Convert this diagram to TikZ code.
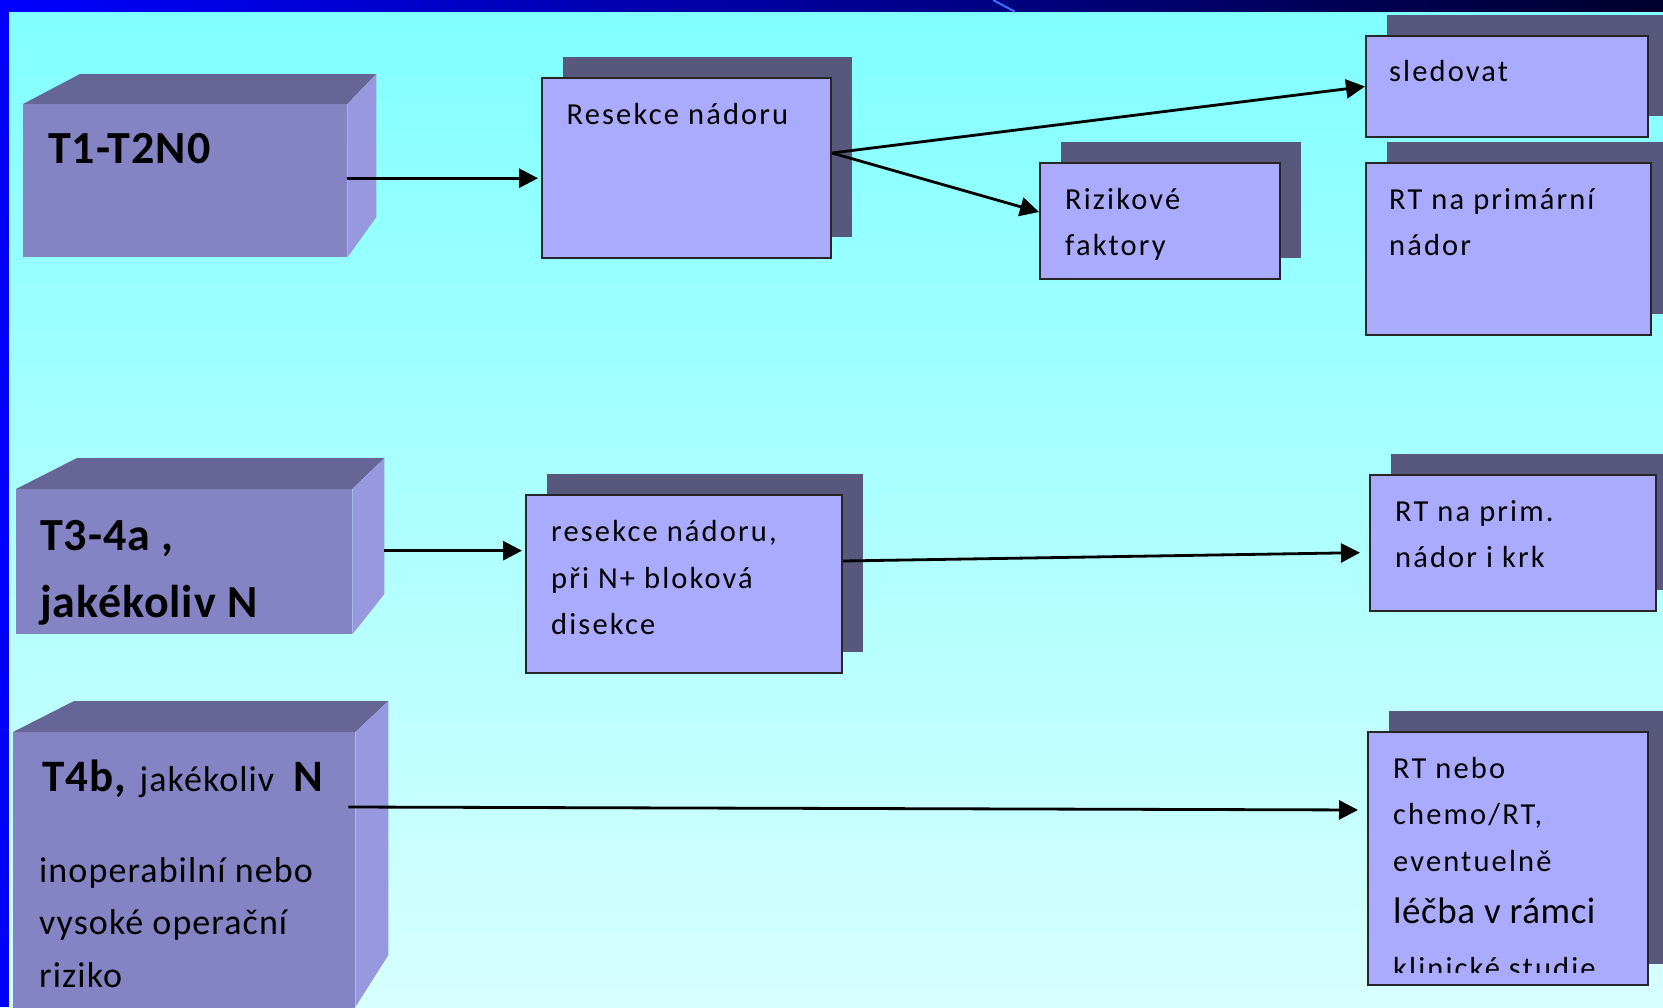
\documentclass[tikz,border=0pt]{standalone}
\usepackage{fontspec}
\setmainfont{Carlito}
\newfontfamily\bxf[LetterSpace=7]{Carlito}
\newfontfamily\bxfb[LetterSpace=1.5]{Carlito}
\newfontfamily\cubf[LetterSpace=2]{Carlito}
\newfontfamily\cubr[LetterSpace=3]{Carlito}
\usetikzlibrary{shadows,arrows.meta,calc}
\definecolor{bgtop}{RGB}{128,255,255}
\definecolor{bgbot}{RGB}{215,255,255}
\definecolor{cfront}{RGB}{132,132,196}
\definecolor{ctop}{RGB}{102,102,150}
\definecolor{cright}{RGB}{152,152,222}
\definecolor{bfill}{RGB}{170,170,255}
\definecolor{bshadow}{RGB}{88,88,124}
\definecolor{bandl}{RGB}{0,0,255}
\definecolor{bandm}{RGB}{0,0,200}
\definecolor{bandr}{RGB}{0,0,45}
\definecolor{glint}{RGB}{60,110,255}
\tikzset{
 flatbox/.style={draw=black!85, line width=2pt, fill=bfill, anchor=north west, inner sep=0pt,
   general shadow={fill=bshadow, shadow xshift=21pt, shadow yshift=21pt}},
 cubefront/.style={fill=cfront, anchor=north west, inner sep=0pt},
 cubetop/.style={fill=ctop},
 cuberight/.style={fill=cright},
 arr/.style={line width=2.8pt, -{Triangle[length=19pt,width=19pt]}},
 btxt/.style={anchor=base west, inner sep=0pt},
}
\newcommand\boxlines[1]{\parbox[t]{280pt}{\bxf\fontsize{30.5}{46.5}\selectfont\raggedright #1}}
\begin{document}
\begin{tikzpicture}[x=1pt,y=-1pt]
\useasboundingbox (0,0) rectangle (1663,1007);
% background
\shade[top color=bgtop, bottom color=bgbot] (0,0) rectangle (1663,1007);
\fill[bandl] (0,0) rectangle (9,1007);
\shade[left color=bandl, middle color=bandm, right color=bandr] (0,0) rectangle (1663,11.7);
\draw[glint, line width=2pt] (993,0) -- (1015,11.7);

% cuboids
\node[cubefront, minimum width=324pt, minimum height=153pt] (c1) at (23,104) {};
\fill[cubetop] (c1.north west) -- ++(57,-30) -- ($(c1.north east)+(29,-30)$) -- (c1.north east) -- cycle;
\fill[cuberight] (c1.north east) -- ++(29,-30) -- ++(0,143) -- (c1.south east) -- cycle;

\node[cubefront, minimum width=336pt, minimum height=145pt] (c2) at (16,489) {};
\fill[cubetop] (c2.north west) -- ++(61,-31) -- ($(c2.north east)+(32,-31)$) -- (c2.north east) -- cycle;
\fill[cuberight] (c2.north east) -- ++(32,-31) -- ++(0,136) -- (c2.south east) -- cycle;

\node[cubefront, minimum width=342pt, minimum height=280pt] (c3) at (13,732) {};
\fill[cubetop] (c3.north west) -- ++(61,-31) -- ($(c3.north east)+(33,-31)$) -- (c3.north east) -- cycle;
\fill[cuberight] (c3.north east) -- ++(33,-31) -- ++(0,254) -- ($(c3.north east)+(0,275)$) -- cycle;

% cuboid texts
\node[btxt] (t1) at ([shift={(25,59)}]c1.north west) {\cubf\bfseries\fontsize{46}{67}\selectfont T1-T2N0};
\node[btxt] (t2) at ([shift={(24,61)}]c2.north west)
  {\parbox[t]{320pt}{\cubf\bfseries\fontsize{46}{67}\selectfont\raggedright T3-4a ,\\jakékoliv N}};
\node[btxt] (t3) at ([shift={(29,59)}]c3.north west)
  {{\cubf\bfseries\fontsize{45}{54}\selectfont T4b,}\hspace{14pt}{\cubr\fontsize{36}{54}\selectfont jakékoliv}\hspace{19pt}{\cubf\bfseries\fontsize{45}{54}\selectfont N}};
\node[btxt] (t3b) at ([shift={(26,150)}]c3.north west)
  {\parbox[t]{330pt}{\cubr\fontsize{36}{52.5}\selectfont\raggedright inoperabilní nebo\\vysoké operační\\riziko}};

% flat boxes
\node[flatbox, minimum width=289pt, minimum height=180pt] (res1) at (541,77) {};
\node[flatbox, minimum width=240pt, minimum height=116pt] (riz) at (1039,162) {};
\node[flatbox, minimum width=282pt, minimum height=101pt] (sled) at (1365,35) {};
\node[flatbox, minimum width=285pt, minimum height=172pt] (rtp1) at (1365,162) {};
\node[flatbox, minimum width=316pt, minimum height=178pt] (res2) at (525,494) {};
\node[flatbox, minimum width=286pt, minimum height=136pt] (rtp2) at (1369,474) {};
\node[flatbox, minimum width=280pt, minimum height=253pt] (rtn) at (1367,731) {};

\node[btxt] (res1t) at ([shift={(25.5,47)}]res1.north west) {\boxlines{Resekce nádoru}};
\node[btxt] (rizt) at ([shift={(26,47)}]riz.north west) {\boxlines{Rizikové\\faktory}};
\node[btxt] (sledt) at ([shift={(24,46)}]sled.north west) {\boxlines{sledovat}};
\node[btxt] (rtp1t) at ([shift={(24,47)}]rtp1.north west) {\boxlines{RT na primární\\nádor}};
\node[btxt] (res2t) at ([shift={(26,47.5)}]res2.north west) {\boxlines{resekce nádoru,\\při N+ bloková\\disekce}};
\node[btxt] (rtp2t) at ([shift={(26,47)}]rtp2.north west) {\boxlines{RT na prim.\\nádor i krk}};
\begin{scope}
\clip (rtn.north west) rectangle ([yshift=13.5pt]rtn.south east);
\node[btxt] (rtnt) at ([shift={(26,47)}]rtn.north west)
  {\boxlines{RT nebo\\chemo/RT,\\eventuelně\\[6pt]{\bxfb\fontsize{37}{46.5}\selectfont léčba v rámci}\\[8.5pt]klinické studie}};
\end{scope}

% connectors
\coordinate (c1out) at ([yshift=2.5pt]c1.east);
\coordinate (c2out) at ([shift={(32,-11)}]c2.east);
\coordinate (c3out) at ([shift={(-7,75)}]c3.north east);
\draw[arr, shorten >=3pt] (c1out) -- (c1out -| res1.west);
\draw[arr] ([yshift=15pt]res1.east) -- (sled.west);
\draw[arr] ([yshift=15pt]res1.east) -- ([yshift=9pt]riz.west);
\draw[arr, shorten >=3pt] (c2out) -- (c2out -| res2.west);
\draw[arr, shorten >=9pt] ([yshift=23pt]res2.east) -- ([yshift=-9.5pt]rtp2.west);
\draw[arr, shorten >=9pt] (c3out) -- ([yshift=48.5pt]rtn.west);
\end{tikzpicture}
\end{document}
